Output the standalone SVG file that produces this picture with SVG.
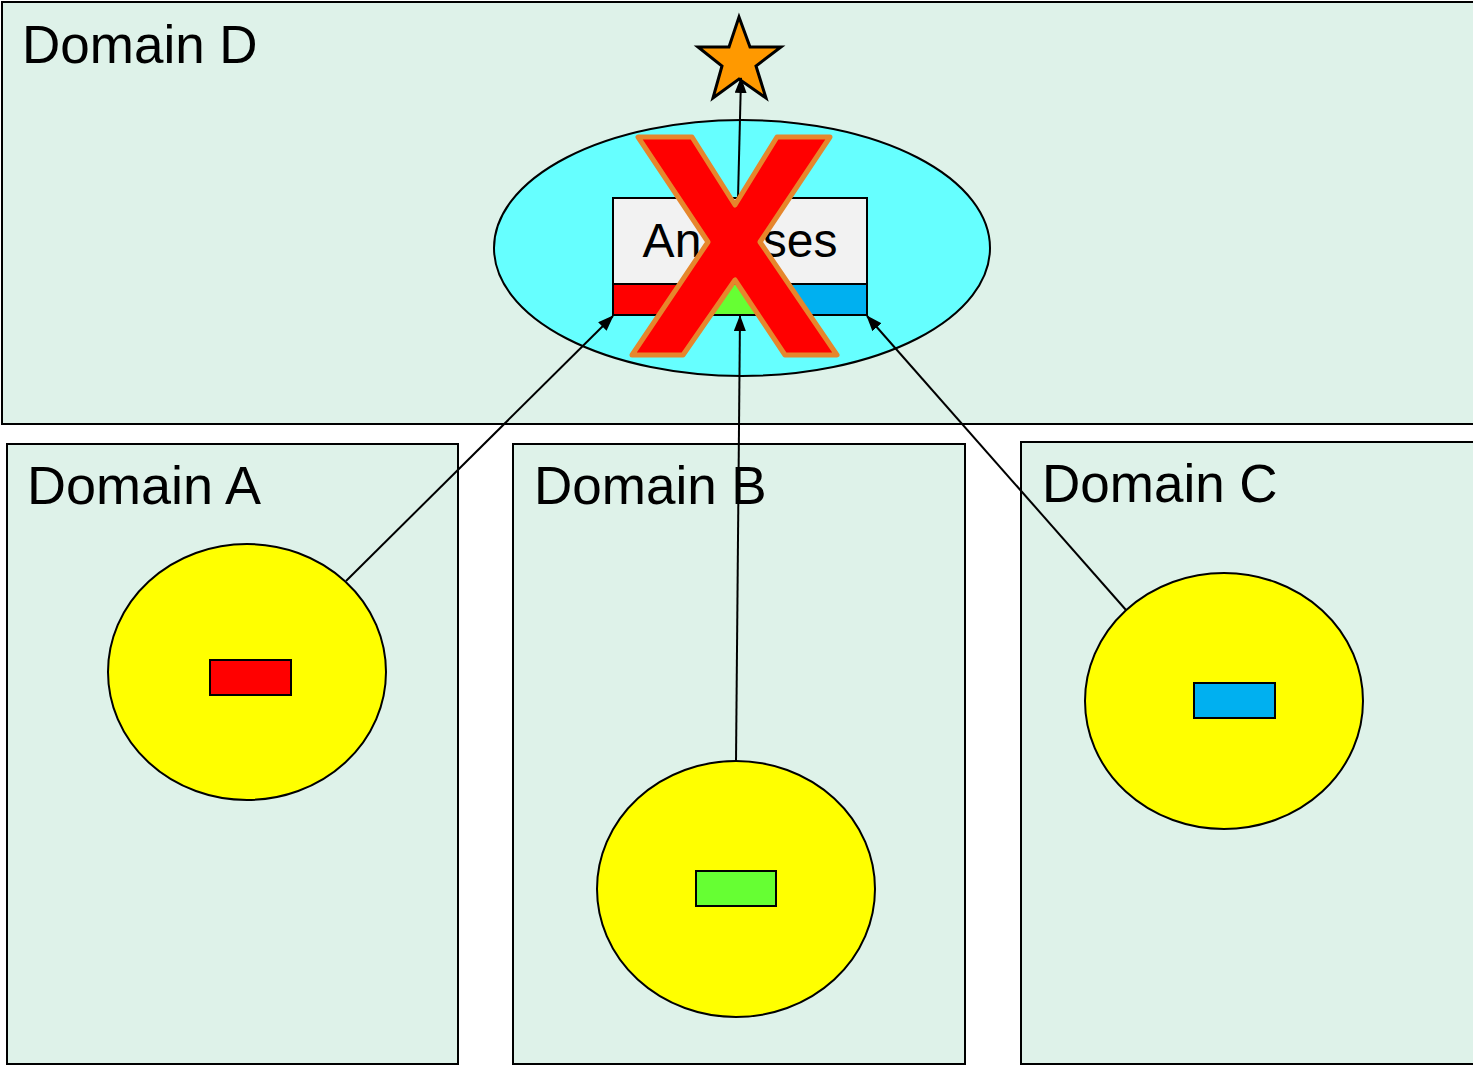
<svg xmlns="http://www.w3.org/2000/svg" width="1473" height="1066" viewBox="0 0 1473 1066">
<defs>
<style>
.dom{fill:#def2e9;stroke:#000;stroke-width:2}
.lbl{font-family:"Liberation Sans",Arial,sans-serif;font-size:53px;fill:#000}
.yc{fill:#ffff00;stroke:#000;stroke-width:2}
.conn{stroke:#000;stroke-width:2;fill:none;marker-end:url(#ah)}
.sm{stroke:#000;stroke-width:2}
</style>
<marker id="ah" viewBox="0 0 16 12" refX="15" refY="6" markerWidth="16" markerHeight="12" markerUnits="userSpaceOnUse" orient="auto">
<path d="M0,0 L16,6 L0,12 z" fill="#000"/>
</marker>
</defs>
<rect width="1473" height="1066" fill="#fff"/>
<g id="domainD">
<rect class="dom" x="2" y="2" width="1472" height="422"/>
<text class="lbl" x="22" y="63">Domain D</text>
</g>
<g id="domainA">
<rect class="dom" x="7" y="444" width="451" height="620"/>
<text class="lbl" x="27" y="504" style="font-size:54px">Domain A</text>
</g>
<g id="domainB">
<rect class="dom" x="513" y="444" width="452" height="620"/>
<text class="lbl" x="534" y="504">Domain B</text>
</g>
<g id="domainC">
<rect class="dom" x="1021" y="442" width="453" height="622"/>
<text class="lbl" x="1042" y="502">Domain C</text>
</g>
<g id="analysesEllipse">
<ellipse cx="742" cy="248" rx="248" ry="128" fill="#66ffff" stroke="#000" stroke-width="2"/>
</g>
<g id="analyses">
<rect x="613" y="198" width="254" height="86" fill="#f2f2f2" stroke="#000" stroke-width="2"/>
<rect x="613" y="284" width="85" height="31" fill="#ff0000"/>
<rect x="698" y="284" width="84" height="31" fill="#66ff33"/>
<rect x="782" y="284" width="85" height="31" fill="#00b0f0"/>
<rect x="613" y="284" width="254" height="31" fill="none" stroke="#000" stroke-width="2"/>
<text x="740" y="257" text-anchor="middle" style="font-family:'Liberation Sans',Arial,sans-serif;font-size:48px">Analyses</text>
</g>
<g id="star">
<polygon points="739,17 750,47 781,47 756,66 766,98 739,79 713,98 722,66 698,47 729,47" fill="#ff9900" stroke="#000" stroke-width="3" stroke-linejoin="miter"/>
</g>
<g id="sourceA">
<ellipse class="yc" cx="247" cy="672" rx="139" ry="128"/>
<rect class="sm" x="210" y="660" width="81" height="35" fill="#ff0000"/>
</g>
<g id="sourceB">
<ellipse class="yc" cx="736" cy="889" rx="139" ry="128"/>
<rect class="sm" x="696" y="871" width="80" height="35" fill="#66ff33"/>
</g>
<g id="sourceC">
<ellipse class="yc" cx="1224" cy="701" rx="139" ry="128"/>
<rect class="sm" x="1194" y="683" width="81" height="35" fill="#00b0f0"/>
</g>
<g id="connectors">
<line class="conn" x1="346" y1="581" x2="613" y2="316"/>
<line class="conn" x1="736" y1="761" x2="740" y2="316"/>
<line class="conn" x1="1126" y1="610" x2="867" y2="316"/>
<line class="conn" x1="738" y1="198" x2="741" y2="78"/>
</g>
<g id="cross">
<polygon points="638,137 692,137 735,205 777,137 830,137 760,242 837,355 785,355 735,280 683,355 632,355 708,242" fill="#ff0000" stroke="#e6862c" stroke-width="5" stroke-linejoin="round"/>
</g>
</svg>
